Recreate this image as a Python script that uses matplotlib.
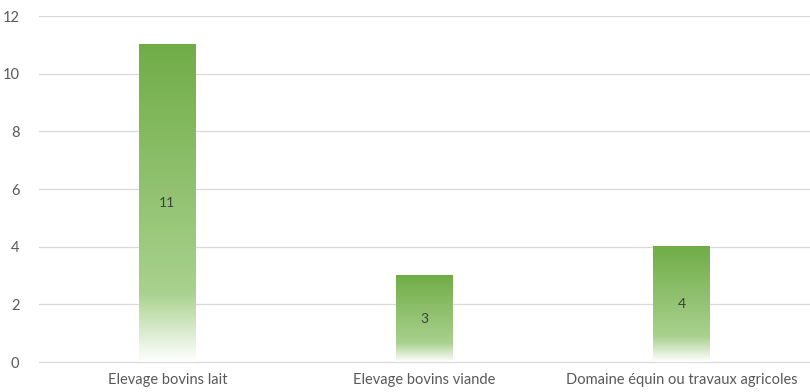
import numpy as np
import matplotlib
matplotlib.use("Agg")
import matplotlib.pyplot as plt
from matplotlib.colors import LinearSegmentedColormap

categories = ["Elevage bovins lait", "Elevage bovins viande", "Domaine équin ou travaux agricoles"]
values = [11, 3, 4]
yticks = [0, 2, 4, 6, 8, 10, 12]

plt.rcParams["font.family"] = ["Lato", "DejaVu Sans"]

fig = plt.figure(figsize=(8.1, 3.92), dpi=100)
ax = fig.add_axes([0.048, 0.0765, 0.952, 0.8825])

# vertical gradient: white at the base, green at the top
cmap = LinearSegmentedColormap.from_list(
    "bar_grad",
    [(0.0, "#ffffff"), (0.22, "#a9d18e"), (1.0, "#70ad47")],
)
grad = np.linspace(0, 1, 256).reshape(-1, 1)

width = 0.22
x = np.arange(len(categories))
bars = ax.bar(x, values, width=width, color="none", edgecolor="none", zorder=3)
for rect, v in zip(bars, values):
    x0 = rect.get_x()
    ax.imshow(grad, cmap=cmap, aspect="auto", origin="lower",
              extent=(x0, x0 + rect.get_width(), 0, v), zorder=3,
              interpolation="bilinear")
    ax.text(rect.get_x() + rect.get_width() / 2, v / 2, str(v),
            ha="center", va="center", fontsize=10, color="#404040", zorder=4)

ax.set_xlim(-0.5, len(categories) - 0.5)
ax.set_ylim(0, 12)
ax.set_yticks(yticks)
ax.set_xticks(x)
ax.set_xticklabels(categories)
ax.grid(axis="y", color="#d9d9d9", linewidth=0.9, zorder=0)
ax.set_axisbelow(True)
for s in ["top", "right", "left"]:
    ax.spines[s].set_visible(False)
ax.spines["bottom"].set_color("#d9d9d9")
ax.tick_params(axis="both", length=0, colors="#595959", labelsize=10.5)
ax.tick_params(axis="y", pad=14)
ax.tick_params(axis="x", pad=8)

fig.savefig("out.png", dpi=100)
